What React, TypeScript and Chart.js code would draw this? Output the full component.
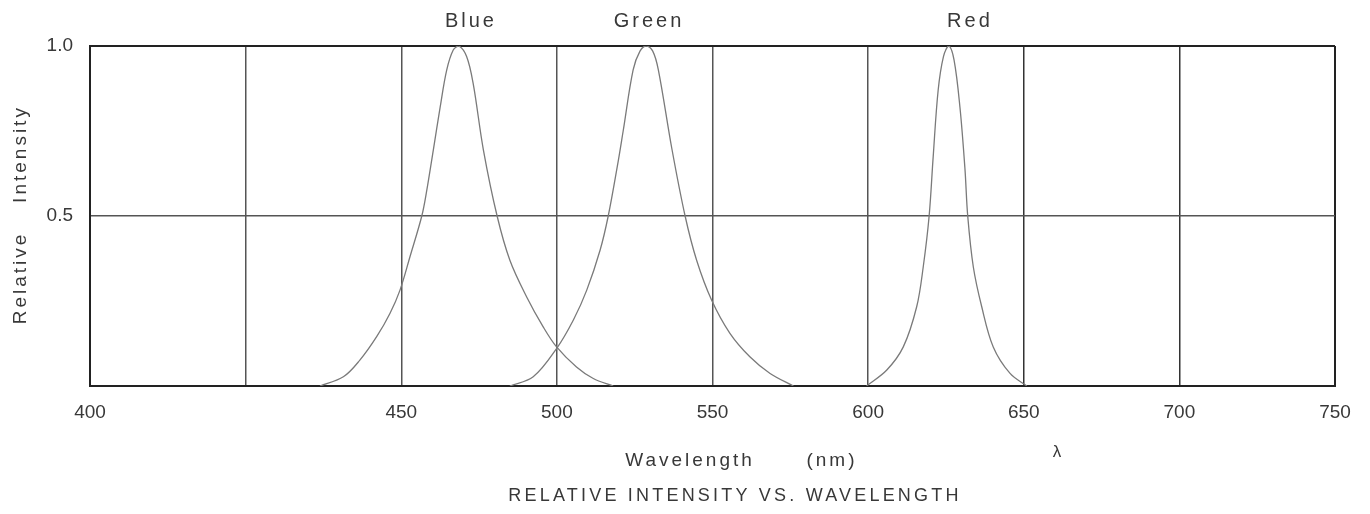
import React, { useEffect, useRef } from 'react';
import { Chart, registerables } from 'chart.js';

Chart.register(...registerables);

// ---- data ----
const blueNm = [423.9, 431.4, 436.7, 442.1, 446.4, 449.6, 452.8, 456.6, 458.1, 460.3, 462.5, 464.6, 466.7, 468.5, 471.0, 473.1, 476.4, 480.8, 484.9, 490.3, 495.6, 499.9, 506.3, 511.7, 518.1];
const blueVal = [0, 0.027, 0.076, 0.145, 0.214, 0.282, 0.38, 0.5, 0.57, 0.694, 0.82, 0.929, 0.988, 1.0, 0.969, 0.89, 0.694, 0.5, 0.37, 0.262, 0.174, 0.115, 0.056, 0.022, 0];

const greenNm = [484.9, 492.4, 499.9, 505.3, 509.6, 513.9, 516.5, 519.4, 521.3, 524.5, 526.7, 528.7, 530.8, 532.6, 536.9, 541.2, 544.9, 549.7, 555.6, 562.0, 568.5, 576.0];
const greenVal = [0, 0.027, 0.11, 0.194, 0.282, 0.4, 0.5, 0.645, 0.75, 0.93, 0.985, 1.0, 0.985, 0.93, 0.7, 0.5, 0.37, 0.253, 0.155, 0.086, 0.037, 0];

const redNm = [599.5, 606.0, 611.3, 615.6, 617.7, 619.6, 620.9, 622.5, 624.2, 625.9, 627.6, 629.5, 631.1, 632.0, 633.8, 636.5, 640.2, 645.6, 651.0];
const redVal = [0, 0.047, 0.115, 0.233, 0.35, 0.5, 0.674, 0.87, 0.969, 1.0, 0.959, 0.82, 0.64, 0.5, 0.35, 0.233, 0.115, 0.037, 0];

const curveNames = ['Blue', 'Green', 'Red'];
const curveLabelNm = [472.4, 529.6, 632.7];

const xTickValues = [350, 400, 450, 500, 550, 600, 650, 700, 750];
const xTickLabels = ['400', '', '450', '500', '550', '600', '650', '700', '750'];
const yTickValues = [0, 0.5, 1.0];
const yTickLabels = ['', '0.5', '1.0'];

const xTitle = 'Wavelength';
const xUnit = '(nm)';
const lambdaSymbol = 'λ';
const yTitleWords = ['Relative', 'Intensity'];
const chartCaption = 'RELATIVE INTENSITY VS. WAVELENGTH';

// ---- styles ----
const FONT = '"Liberation Sans", "DejaVu Sans", sans-serif';
const TEXT = '#383838';
const CURVE = '#7a7a7a';

const zip = (xs: number[], ys: number[]) => xs.map((x, i) => ({ x, y: ys[i] }));

const textPlugin = {
  id: 'extraText',
  afterDraw(chart: any) {
    const { ctx, chartArea } = chart;
    const xs = chart.scales.x;
    ctx.save();
    ctx.fillStyle = TEXT;
    ctx.textAlign = 'center';
    ctx.textBaseline = 'middle';

    // curve labels above plot
    ctx.font = `20px ${FONT}`;
    (ctx as any).letterSpacing = '3px';
    curveNames.forEach((n, i) => {
      ctx.fillText(n, xs.getPixelForValue(curveLabelNm[i]), chartArea.top - 25);
    });

    // x axis title
    ctx.font = `19px ${FONT}`;
    (ctx as any).letterSpacing = '3px';
    ctx.fillText(xTitle, 690, chartArea.bottom + 75);
    ctx.fillText(xUnit, 832, chartArea.bottom + 75);

    // lambda
    ctx.font = `17px ${FONT}`;
    (ctx as any).letterSpacing = '0px';
    ctx.fillText(lambdaSymbol, 1057, chartArea.bottom + 66);

    // caption
    ctx.font = `18px ${FONT}`;
    (ctx as any).letterSpacing = '3.2px';
    ctx.fillText(chartCaption, 735, chartArea.bottom + 110);

    // y axis title (rotated)
    ctx.font = `19px ${FONT}`;
    (ctx as any).letterSpacing = '3px';
    ctx.translate(21, 0);
    ctx.rotate(-Math.PI / 2);
    ctx.fillText(yTitleWords[0], -278, 0);
    ctx.fillText(yTitleWords[1], -154, 0);

    ctx.restore();
  },
};

export default function App() {
  const ref = useRef<HTMLCanvasElement | null>(null);

  useEffect(() => {
    if (!ref.current) return;
    const lineDs = (label: string, nm: number[], val: number[]) => ({
      label,
      data: zip(nm, val),
      borderColor: CURVE,
      borderWidth: 1.3,
      pointRadius: 0,
      fill: false,
      tension: 0.35,
    });

    const chart = new Chart(ref.current, {
      type: 'line',
      data: {
        datasets: [
          lineDs('Blue', blueNm, blueVal),
          lineDs('Green', greenNm, greenVal),
          lineDs('Red', redNm, redVal),
        ],
      },
      options: {
        responsive: false,
        animation: false,
        devicePixelRatio: 1,
        layout: { padding: { top: 46, right: 35, left: 0, bottom: 0 } },
        plugins: {
          legend: { display: false },
          tooltip: { enabled: false },
          title: { display: false },
        },
        scales: {
          x: {
            type: 'linear',
            min: 350,
            max: 750,
            afterBuildTicks: (s: any) => {
              s.ticks = xTickValues.map((v) => ({ value: v }));
            },
            afterFit: (s: any) => {
              s.height = 128;
            },
            ticks: {
              autoSkip: false,
              maxRotation: 0,
              padding: 15,
              color: TEXT,
              font: { family: FONT, size: 19 },
              callback: (v: any) => {
                const i = xTickValues.indexOf(Number(v));
                return i >= 0 ? xTickLabels[i] : '';
              },
            },
            grid: {
              drawTicks: false,
              color: (c: any) => {
                const v = c.tick ? c.tick.value : 0;
                if (v === 350 || v === 750) return '#222';
                if (v >= 650) return '#333';
                return '#555';
              },
              lineWidth: (c: any) => {
                const v = c.tick ? c.tick.value : 0;
                if (v === 350 || v === 750) return 2;
                return 1.5;
              },
            },
            border: { color: '#222', width: 2 },
          },
          y: {
            type: 'linear',
            min: 0,
            max: 1,
            afterBuildTicks: (s: any) => {
              s.ticks = yTickValues.map((v) => ({ value: v }));
            },
            afterFit: (s: any) => {
              s.width = 90;
            },
            ticks: {
              padding: 17,
              color: TEXT,
              font: { family: FONT, size: 19 },
              callback: (v: any) => {
                const i = yTickValues.indexOf(Number(v));
                return i >= 0 ? yTickLabels[i] : '';
              },
            },
            grid: {
              drawTicks: false,
              color: (c: any) => {
                const v = c.tick ? c.tick.value : 0;
                return v === 1 || v === 0 ? '#222' : '#555';
              },
              lineWidth: (c: any) => {
                const v = c.tick ? c.tick.value : 0;
                return v === 1 || v === 0 ? 2 : 1.5;
              },
            },
            border: { color: '#222', width: 2 },
          },
        },
      },
      plugins: [textPlugin],
    });

    return () => chart.destroy();
  }, []);

  return (
    <div style={{ position: 'fixed', left: 0, top: 0, width: 1370, height: 514, background: '#fff' }}>
      <canvas ref={ref} width={1370} height={514} />
    </div>
  );
}
